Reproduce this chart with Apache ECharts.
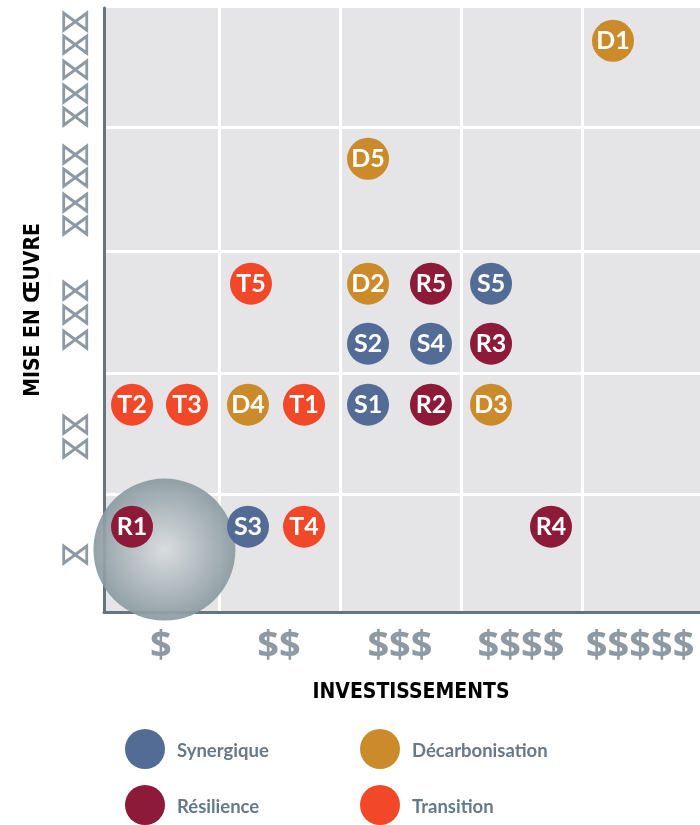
<!DOCTYPE html>
<html><head><meta charset="utf-8">
<style>html,body{margin:0;padding:0;background:#fff}#c{width:700px;height:825px}</style>
<script src="https://cdn.jsdelivr.net/npm/echarts@6/dist/echarts.min.js"></script></head>
<body><div id="c"></div>
<script>
const xBreaks=[0.97,1.98,3.0,4.01];
const yBreaks=[0.977,1.98,2.99,4.01];
const xTickPos=[0.478,1.468,2.483,3.498,4.497];
const xTickLabels=['$','$$','$$$','$$$$','$$$$$'];
const yTickPos=[0.456,1.338,1.537,2.244,2.443,2.642,3.18,3.378,3.577,3.775,4.082,4.28,4.479,4.678,4.876];
const yTickLabel='⋈';
const synergique=[[2.215,1.716,'S1'],[2.215,2.221,'S2'],[1.208,0.706,'S3'],[2.743,2.221,'S4'],[3.247,2.718,'S5']];
const resilience=[[0.235,0.706,'R1'],[2.743,1.716,'R2'],[3.247,2.221,'R3'],[3.75,0.706,'R4'],[2.743,2.718,'R5']];
const decarbonisation=[[4.27,4.729,'D1'],[2.215,2.718,'D2'],[3.247,1.716,'D3'],[1.208,1.716,'D4'],[2.215,3.752,'D5']];
const transition=[[1.678,1.716,'T1'],[0.235,1.716,'T2'],[0.696,1.716,'T3'],[1.678,0.706,'T4'],[1.233,2.718,'T5']];
const highlight=[[0.507,0.517]];
const mk=(name,data,color)=>({name,type:'scatter',data,symbolSize:42,z:5,clip:false,
  itemStyle:{color,opacity:1},
  label:{show:true,position:'inside',formatter:p=>p.value[2],color:'#fff',fontFamily:'Lato',fontWeight:700,fontSize:25}});
const legendText={color:'#64798a',fontFamily:'Lato',fontWeight:700,fontSize:18.5};
const legendBase={orient:'vertical',padding:0,itemWidth:40,itemHeight:40,itemGap:16,icon:'circle',selectedMode:false,
  formatter:'{a|{name}}',
  textStyle:Object.assign({},legendText,{rich:{a:Object.assign({},legendText,{padding:[4,0,0,7]})}})};
const titleFont={color:'#000',fontFamily:'DejaVu Sans Condensed',fontWeight:700,fontSize:21};
const chart=echarts.init(document.getElementById('c'),null,{renderer:'canvas'});
chart.setOption({
  animation:false,
  grid:{left:104,top:8,width:596,height:604,show:true,backgroundColor:'#e5e5e7',borderWidth:0},
  legend:[
    Object.assign({},legendBase,{left:125,top:729,data:['Synergique','Résilience']}),
    Object.assign({},legendBase,{left:360,top:729,data:['Décarbonisation','Transition']})
  ],
  xAxis:{type:'value',min:0,max:5,
    name:'INVESTISSEMENTS',nameLocation:'middle',nameGap:70,
    nameTextStyle:Object.assign({},titleFont,{padding:[0,0,0,18]}),
    axisLine:{show:true,onZero:false,lineStyle:{color:'#64757f',width:3}},
    axisTick:{show:false,customValues:xBreaks},
    splitLine:{show:true,lineStyle:{color:'#fff',width:3}},
    axisLabel:{show:true,customValues:xTickPos,margin:16,showMinLabel:true,showMaxLabel:true,
      formatter:v=>xTickLabels[xTickPos.indexOf(v)],
      color:'#8d9aa3',fontFamily:'Open Sans',fontWeight:700,fontSize:38}},
  yAxis:{type:'value',min:0,max:5,
    name:'MISE EN ŒUVRE',nameLocation:'middle',nameGap:60,
    nameTextStyle:titleFont,
    axisLine:{show:true,onZero:false,lineStyle:{color:'#64757f',width:3}},
    axisTick:{show:false,customValues:yBreaks},
    splitLine:{show:true,lineStyle:{color:'#fff',width:3}},
    axisLabel:{show:true,customValues:[0,...yTickPos,5],margin:12,
      formatter:v=>yTickPos.includes(v)?yTickLabel:'',
      color:'#8d9aa3',fontFamily:'DejaVu Sans',fontSize:33,lineHeight:14}},
  series:[
    {name:'Zone',type:'scatter',data:highlight,symbolSize:142,z:3,clip:false,silent:true,
      itemStyle:{opacity:0.92,color:{type:'radial',x:0.5,y:0.5,r:0.5,colorStops:[{offset:0,color:'#d8dcdf'},{offset:1,color:'#8a9aa1'}]}}},
    mk('Synergique',synergique,'#536c95'),
    mk('Résilience',resilience,'#8c1a38'),
    mk('Décarbonisation',decarbonisation,'#cb8b2b'),
    mk('Transition',transition,'#f1482a')
  ]
});
</script></body></html>
